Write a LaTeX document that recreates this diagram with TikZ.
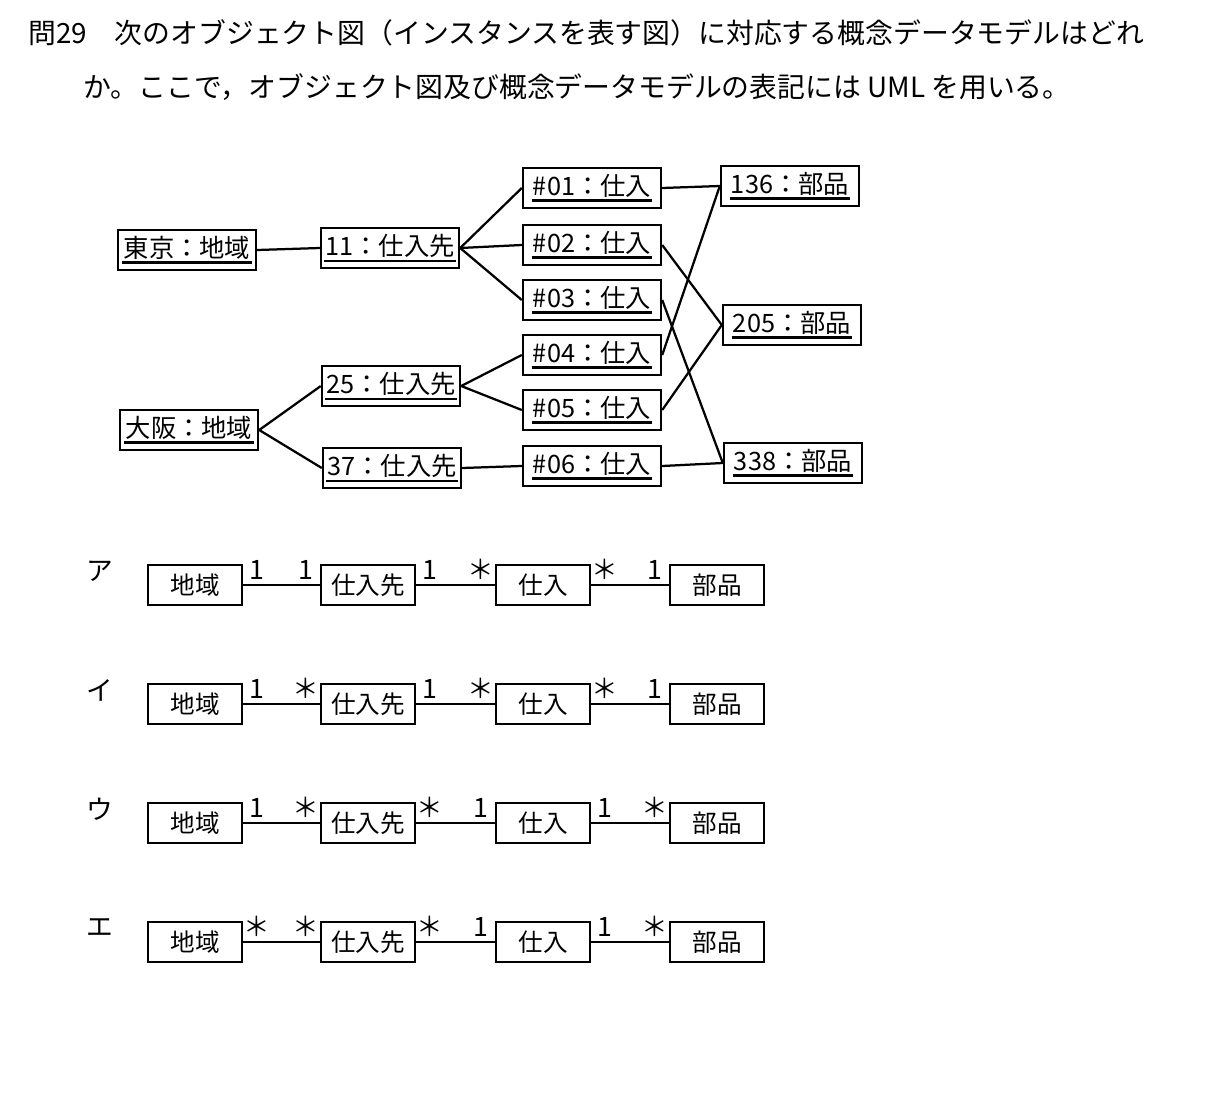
\documentclass[tikz,border=0pt]{standalone}
\usepackage{fontspec}
\setmainfont{Noto Sans CJK JP}
\newcommand{\objul}[1]{\vtop{\hbox{\kern1pt#1\kern1pt}\kern1.5pt\hrule height1.8pt}}

\begin{document}
\begin{tikzpicture}[x=0.025cm,y=-0.025cm,
  obj/.style={draw,line width=1.7pt,minimum width=3.45cm,minimum height=1cm,inner sep=2pt,font=\fontsize{18}{21}\selectfont},
  cls/.style={draw,line width=1.7pt,minimum width=2.35cm,minimum height=1cm,inner sep=2pt,font=\fontsize{17.5}{21}\selectfont},
  conn/.style={line width=1.6pt},
  mult/.style={above,inner sep=3pt,font=\fontsize{19}{22}\selectfont},
  title/.style={anchor=west,inner sep=0pt,font=\fontsize{19.8}{22}\selectfont}]
\useasboundingbox (0,0) rectangle (1232,1114);

\node[title] (q1) at (28,33) {問29　次のオブジェクト図（インスタンスを表す図）に対応する概念データモデルはどれ};
\node[title] (q2) at (83,87) {か。ここで，オブジェクト図及び概念データモデルの表記には UML を用いる。};

\node[obj] (tokyo) at (187,250) {\objul{東京：地域}};
\node[obj] (osaka) at (189,430) {\objul{大阪：地域}};
\node[obj] (t11) at (390,248) {\objul{11：仕入先}};
\node[obj] (t25) at (391,386) {\objul{25：仕入先}};
\node[obj] (t37) at (392,468) {\objul{37：仕入先}};
\foreach \i/\y in {1/188,2/245,3/300,4/355,5/410,6/466}
\node[obj] (s\i) at (592,\y) {\objul{\#0\i：仕入}};
\node[obj] (p1) at (790,186) {\objul{136：部品}};
\node[obj] (p2) at (792,325) {\objul{205：部品}};
\node[obj] (p3) at (793,463) {\objul{338：部品}};

\draw[conn] (tokyo.east) -- (t11.west);
\draw[conn] (osaka.east) -- (t25.west);
\draw[conn] (osaka.east) -- (t37.west);
\foreach \a/\b in {t11/s1,t11/s2,t11/s3,t25/s4,t25/s5,t37/s6,s1/p1,s2/p2,s3/p3,s4/p1,s5/p2,s6/p3}
\draw[conn] (\a.east) -- (\b.west);

\foreach \k/\lab/\y/\ma/\mb/\mc/\md/\me/\mf in {
  1/ア/585/1/1/1/＊/＊/1,
  2/イ/704/1/＊/1/＊/＊/1,
  3/ウ/823/1/＊/＊/1/1/＊,
  4/エ/942/＊/＊/＊/1/1/＊}{
\node[font=\fontsize{19}{22}\selectfont] (lab\k) at (100,\y-14) {\lab};
\node[cls] (r\k) at (195,\y) {地域};
\node[cls] (v\k) at (368,\y) {仕入先};
\node[cls] (s\k) at (543,\y) {仕入};
\node[cls] (b\k) at (717,\y) {部品};
\draw[conn] (r\k) -- node[mult,pos=.18]{\ma} node[mult,pos=.82]{\mb} (v\k);
\draw[conn] (v\k) -- node[mult,pos=.18]{\mc} node[mult,pos=.82]{\md} (s\k);
\draw[conn] (s\k) -- node[mult,pos=.18]{\me} node[mult,pos=.82]{\mf} (b\k);
}
\end{tikzpicture}
\end{document}
